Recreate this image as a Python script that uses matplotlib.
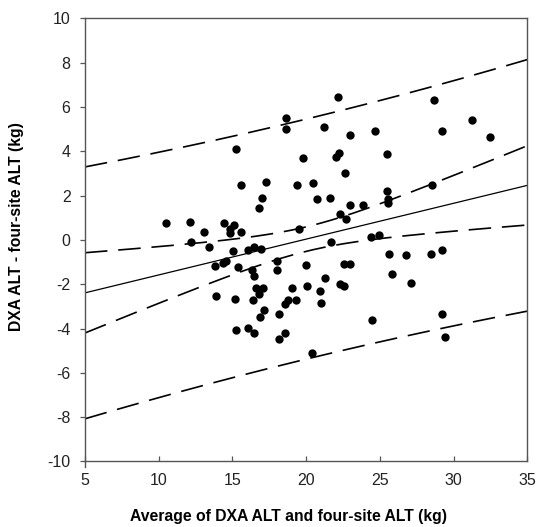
import numpy as np
import matplotlib
matplotlib.use("Agg")
import matplotlib.pyplot as plt
from matplotlib.lines import Line2D

plt.rcParams['font.family'] = ['Liberation Sans', 'DejaVu Sans']
plt.rcParams['axes.unicode_minus'] = False

# Average of DXA ALT and four-site ALT (kg)
avg_alt = [10.49, 12.11, 12.20, 13.04, 13.44, 13.80, 13.87, 14.44, 14.37, 14.55,
           14.82, 14.86, 15.14, 15.05, 15.23, 15.36, 15.18, 15.23, 15.59, 15.61,
           16.04, 16.08, 16.35, 16.47, 16.44, 16.38, 16.44, 16.63, 16.78, 16.81,
           16.94, 17.01, 17.05, 16.85, 17.12, 17.26, 18.02, 18.02, 18.16, 18.18,
           18.61, 18.61, 18.59, 18.57, 18.79, 19.02, 19.31, 19.40, 19.51, 19.76,
           19.99, 20.08, 20.40, 20.46, 20.73, 20.94, 21.00, 21.23, 21.25, 21.64,
           21.70, 22.16, 22.00, 22.25, 22.31, 22.29, 22.59, 22.63, 22.72, 22.56,
           22.95, 22.97, 22.95, 23.87, 24.41, 24.48, 24.64, 24.91, 25.45, 25.47,
           25.54, 25.54, 25.61, 25.79, 26.74, 27.08, 28.52, 28.50, 28.70, 29.18,
           29.20, 29.20, 29.40, 31.28, 32.49]
# DXA ALT - four-site ALT (kg)
diff_alt = [0.75, 0.79, -0.08, 0.35, -0.31, -1.18, -2.54, 0.75, -1.05, -0.93,
            0.48, 0.32, 0.69, -0.49, 4.13, -1.20, -2.68, -4.08, 2.47, 0.34,
            -0.43, -3.99, -1.34, -1.62, -0.31, -2.72, -4.20, -2.15, 1.44, -2.42,
            -0.40, 1.91, -2.18, -3.46, -3.18, 2.60, -0.97, -1.34, -3.36, -4.46,
            5.49, 5.03, -4.20, -2.89, -2.71, -2.18, -2.72, 2.50, 0.51, 3.69,
            -1.11, -2.08, -5.08, 2.59, 1.83, -2.30, -2.83, 5.12, -1.70, 1.91,
            -0.10, 6.47, 3.74, 3.95, 1.17, -1.98, -2.08, 3.01, 0.97, -1.08,
            -1.08, 4.75, 1.59, 1.58, 0.14, -3.62, 4.93, 0.23, 3.90, 2.20,
            1.86, 1.65, -0.61, -1.53, -0.67, -1.95, 2.47, -0.61, 6.32, 4.94,
            -0.45, -3.34, -4.37, 5.41, 4.66]

x_ticks = [5, 10, 15, 20, 25, 30, 35]
y_ticks = [-10, -8, -6, -4, -2, 0, 2, 4, 6, 8, 10]

x = np.array(avg_alt)
y = np.array(diff_alt)
n = len(x)
slope, intercept = np.polyfit(x, y, 1)
resid = y - (intercept + slope * x)
s = np.sqrt(np.sum(resid ** 2) / (n - 2))
xbar = x.mean()
sxx = np.sum((x - xbar) ** 2)
t_crit = 1.986
xs = np.linspace(5, 35, 300)
fit = intercept + slope * xs
ci = t_crit * s * np.sqrt(1.0 / n + (xs - xbar) ** 2 / sxx)
pi = t_crit * s * np.sqrt(1.0 + 1.0 / n + (xs - xbar) ** 2 / sxx)

fig = plt.figure(figsize=(5.4, 5.27), dpi=100)
ax = fig.add_axes([0.1574, 0.1243, 0.8191, 0.8406])

dash = (0, (13.5, 6.5))
ax.plot(xs, fit, color='black', lw=0.9)
for band in (fit + ci, fit - ci, fit + pi, fit - pi):
    ax.plot(xs, band, color='black', lw=1.2, linestyle=dash)

ax.plot(x, y, 'o', color='black', markersize=6.0, markeredgewidth=0)

ax.set_xlim(5, 35)
ax.set_ylim(-10, 10)
ax.set_xticks(x_ticks)
ax.set_yticks(y_ticks)
for sp in ax.spines.values():
    sp.set_color('#555555')
    sp.set_linewidth(1.0)
ax.tick_params(axis='x', direction='in', length=3.3, width=0.9, color='#555555',
               labelsize=11.5, labelcolor='#222222', pad=8)
ax.tick_params(axis='y', direction='out', length=3.4, width=0.9, color='#555555',
               labelsize=11.5, labelcolor='#222222', pad=7)
ax.add_line(Line2D([0, 0], [0, -0.013], transform=ax.transAxes, color='#555555',
                   lw=1.0, clip_on=False))

ax.set_xlabel('Average of DXA ALT and four-site ALT (kg)', fontsize=11.3,
              fontweight='bold')
ax.set_ylabel('DXA ALT - four-site ALT (kg)', fontsize=11.3, fontweight='bold')
ax.xaxis.set_label_coords(0.46, -0.107)
ax.yaxis.set_label_coords(-0.137, 0.53)

fig.savefig('out.png', dpi=100)
